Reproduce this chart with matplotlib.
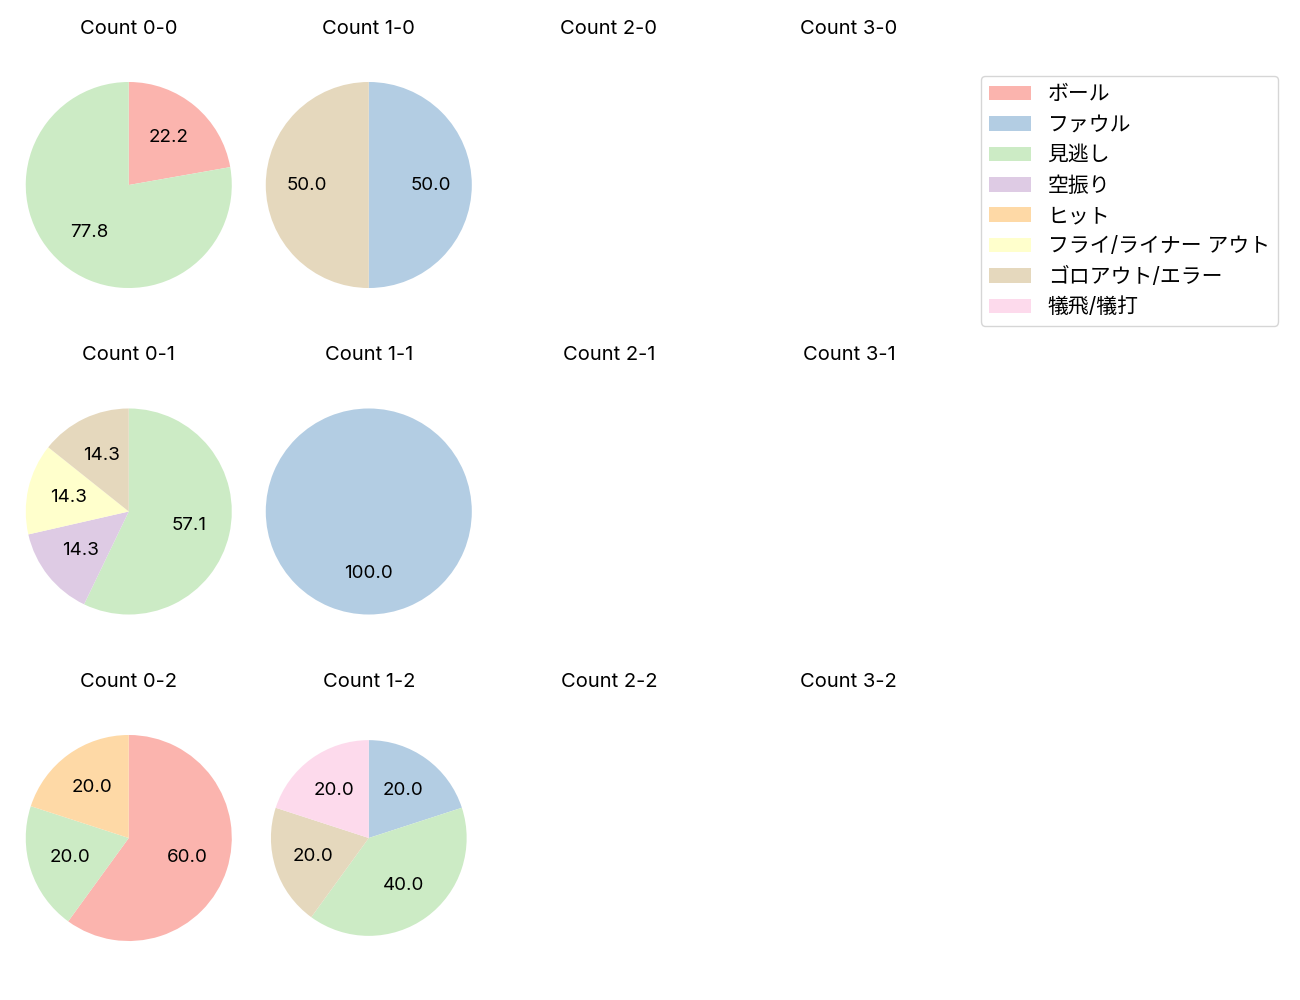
import numpy as np
import matplotlib
matplotlib.use("Agg")
import matplotlib.pyplot as plt
from matplotlib.patches import Patch

plt.rcParams["font.family"] = ["Inter", "Noto Sans CJK JP", "DejaVu Sans"]
plt.rcParams["font.size"] = 13.5

# pitch result categories (legend order)
categories = ["ボール", "ファウル", "見逃し", "空振り", "ヒット",
              "フライ/ライナー アウト", "ゴロアウト/エラー", "犠飛/犠打"]
colors = plt.get_cmap("Pastel1").colors[:len(categories)]

balls = [0, 1, 2, 3]
strikes = [0, 1, 2]

# counts per category for each ball-strike count
count_0_0 = [2, 0, 7, 0, 0, 0, 0, 0]
count_1_0 = [0, 1, 0, 0, 0, 0, 1, 0]
count_0_1 = [0, 0, 4, 1, 0, 1, 1, 0]
count_1_1 = [0, 1, 0, 0, 0, 0, 0, 0]
count_0_2 = [3, 0, 1, 0, 1, 0, 0, 0]
count_1_2 = [0, 1, 2, 0, 0, 0, 1, 1]

data = {
    (0, 0): count_0_0,
    (1, 0): count_1_0,
    (0, 1): count_0_1,
    (1, 1): count_1_1,
    (0, 2): count_0_2,
    (1, 2): count_1_2,
}

fig, axes = plt.subplots(3, 4, figsize=(13, 10), dpi=100)
fig.subplots_adjust(left=0.0, right=0.752, top=0.958, bottom=0.019,
                    wspace=-0.068, hspace=0.1416)

for r, s in enumerate(strikes):
    for c, b in enumerate(balls):
        ax = axes[r, c]
        ax.set_title(f"Count {b}-{s}", fontsize=14.5)
        vals = data.get((b, s))
        if vals is None:
            ax.axis("off")
            continue
        vals = np.array(vals)
        mask = vals > 0
        radius = 0.95 if (b, s) == (1, 2) else 1.0
        ax.pie(vals[mask], colors=[colors[i] for i in np.where(mask)[0]],
               autopct="%.1f", startangle=90, counterclock=False,
               radius=radius)
        # keep the full axes box (title at top), equal scale by hand
        pos = ax.get_position(original=True)
        ratio = (pos.height * fig.get_figheight()) / (pos.width * fig.get_figwidth())
        ax.set_aspect("auto")
        ax.set_xlim(-1.25, 1.25)
        ax.set_ylim(-1.25 * ratio, 1.25 * ratio)

handles = [Patch(facecolor=col, label=lab) for col, lab in zip(colors, categories)]
fig.legend(handles=handles, loc="upper left", borderaxespad=0,
           bbox_to_anchor=(0.7546, 0.924), fontsize=15,
           handlelength=2.0, handletextpad=0.8, labelspacing=0.5)

plt.savefig("out.png")
plt.close()
